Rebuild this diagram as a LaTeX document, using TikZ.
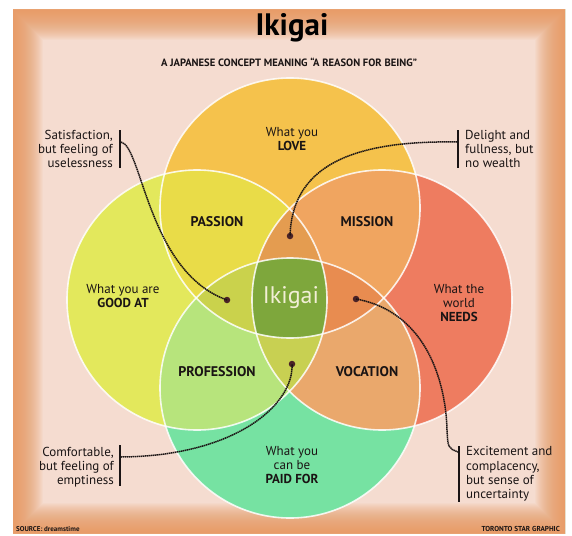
\documentclass[tikz,border=0pt]{standalone}
\usepackage{fontspec}
\setmainfont{PT Sans}
\definecolor{bgpink}{HTML}{F5DCD0}
\definecolor{bgorange}{HTML}{E8955A}
\definecolor{colT}{HTML}{F5C24C}
\definecolor{colL}{HTML}{E3E85C}
\definecolor{colR}{HTML}{EE7C60}
\definecolor{colB}{HTML}{76E2A2}
\definecolor{colTL}{HTML}{E9DC48}
\definecolor{colTR}{HTML}{F0A560}
\definecolor{colLB}{HTML}{B7E47C}
\definecolor{colRB}{HTML}{EAA86C}
\definecolor{colTLR}{HTML}{E49C50}
\definecolor{colTLB}{HTML}{CAD24C}
\definecolor{colTRB}{HTML}{E88C50}
\definecolor{colLRB}{HTML}{C8D052}
\definecolor{colC}{HTML}{7EA73C}
\definecolor{ink}{HTML}{1A1414}
\definecolor{dotc}{HTML}{4A2226}
\definecolor{ikitext}{HTML}{F2EFD6}
\begin{document}
\begin{tikzpicture}[x=1pt,y=-1pt,
  cT/.style={insert path={(290,208) circle[radius=130pt]}},
  cL/.style={insert path={(197,300) circle[radius=130pt]}},
  cR/.style={insert path={(382,300) circle[radius=130pt]}},
  cB/.style={insert path={(290,388) circle[radius=130pt]}},
  outline/.style={draw=white, line width=1.6pt, opacity=0.85},
  lbl/.style={font=\fontsize{13}{14}\selectfont, text=ink, align=center, inner sep=0pt},
  blbl/.style={font=\fontsize{14}{15}\selectfont\bfseries, text=ink, align=center, inner sep=0pt},
  side/.style={font=\fontsize{13}{14.3}\selectfont, text=ink, inner sep=0pt},
  bar/.style={draw=ink, line width=2.4pt},
  conn/.style={draw=ink, line width=1.5pt, dash pattern=on 1.4pt off 0.6pt},
  dotn/.style={circle, fill=dotc, minimum size=6.5pt, inner sep=0pt}]
\useasboundingbox (0,0) rectangle (572,535);
\fill[white] (0,0) rectangle (572,535);
% background with vignette
\begin{scope}
  \clip (13,10) rectangle (565,533);
  \fill[bgpink] (13,10) rectangle (565,533);
  \foreach \w in {2,4,...,60}
    \draw[bgorange, opacity=0.055, line width=\w pt] (13,10) rectangle (565,533);
\end{scope}
% circles
\fill[colT, cT];
\fill[colL, cL];
\fill[colR, cR];
\fill[colB, cB];
% pairs
\begin{scope}\clip[cT]; \fill[colTL, cL]; \end{scope}
\begin{scope}\clip[cT]; \fill[colTR, cR]; \end{scope}
\begin{scope}\clip[cB]; \fill[colLB, cL]; \end{scope}
\begin{scope}\clip[cB]; \fill[colRB, cR]; \end{scope}
% triples
\begin{scope}\clip[cT]; \clip[cL]; \fill[colTLR, cR]; \end{scope}
\begin{scope}\clip[cT]; \clip[cB]; \fill[colTLB, cL]; \end{scope}
\begin{scope}\clip[cT]; \clip[cB]; \fill[colTRB, cR]; \end{scope}
\begin{scope}\clip[cL]; \clip[cR]; \fill[colLRB, cB]; \end{scope}
% quadruple
\begin{scope}\clip[cT]; \clip[cL]; \clip[cR]; \fill[colC, cB]; \end{scope}
% outlines
\path[outline, cT];
\path[outline, cL];
\path[outline, cR];
\path[outline, cB];
% titles
\node[font=\fontsize{31}{31}\selectfont\bfseries, text=black, inner sep=0pt] (title) at (292,28) {Ikigai};
\node[font=\fontsize{10.6}{11}\selectfont\bfseries, text=ink, inner sep=0pt] (subtitle) at (289,62) {A JAPANESE CONCEPT MEANING “A REASON FOR BEING”};
% circle labels
\node[lbl] (love) at (292,139) {What you\\\textbf{LOVE}};
\node[lbl] (good) at (123,296) {What you are\\\textbf{GOOD AT}};
\node[lbl] (needs) at (459,303) {What the\\world\\\textbf{NEEDS}};
\node[lbl] (paid) at (292,465) {What you\\can be\\\textbf{PAID FOR}};
% pair labels
\node[blbl] (passion) at (217,222) {PASSION};
\node[blbl] (mission) at (367,222) {MISSION};
\node[blbl] (profession) at (217,372) {PROFESSION};
\node[blbl] (vocation) at (367,372) {VOCATION};
% centre
\node[font=\fontsize{24}{24}\selectfont, text=ikitext, inner sep=0pt] (iki) at (291,298) {Ikigai};
% dots
\node[dotn] (d1) at (227,300) {};
\node[dotn] (d2) at (290,236) {};
\node[dotn] (d3) at (292,364) {};
\node[dotn] (d4) at (356,299) {};
% side texts
\node[side, anchor=east, align=right] (s1) at (113,149) {Satisfaction,\\but feeling of\\uselessness};
\node[side, anchor=west, align=left] (s2) at (465,149) {Delight and\\fullness, but\\no wealth};
\node[side, anchor=east, align=right] (s3) at (114,467) {Comfortable,\\but feeling of\\emptiness};
\node[side, anchor=west, align=left] (s4) at (466,474) {Excitement and\\complacency,\\but sense of\\uncertainty};
% bars
\coordinate (b1t) at (120,130); \coordinate (b1b) at (120,168);
\coordinate (b2t) at (458,130); \coordinate (b2b) at (458,168);
\coordinate (b3t) at (120,445); \coordinate (b3b) at (120,486);
\coordinate (b4t) at (459,446); \coordinate (b4b) at (459,502);
\draw[bar] (b1t) -- (b1b);
\draw[bar] (b2t) -- (b2b);
\draw[bar] (b3t) -- (b3b);
\draw[bar] (b4t) -- (b4b);
% connectors
\coordinate (c1) at (121,142);
\coordinate (c2) at (457,142);
\coordinate (c3) at (121,457);
\coordinate (c4) at (458,452);
\draw[conn] (c1) .. controls (142,146) and (148,272) .. (d1.center);
\draw[conn] (c2) .. controls (345,140) and (292,170) .. (d2.center);
\draw[conn] (c3) .. controls (235,456) and (294,405) .. (d3.center);
\draw[conn] (d4.center) .. controls (428,312) and (446,385) .. (447,430) .. controls (448,448) .. (c4);
% footer
\node[font=\fontsize{7}{7}\selectfont\bfseries, text=ink, anchor=west, inner sep=0pt] (src) at (16,529) {SOURCE: dreamstime};
\node[font=\fontsize{7.2}{7}\selectfont\bfseries, text=ink, anchor=east, inner sep=0pt] (tsg) at (560,529) {TORONTO STAR GRAPHIC};
\end{tikzpicture}
\end{document}
